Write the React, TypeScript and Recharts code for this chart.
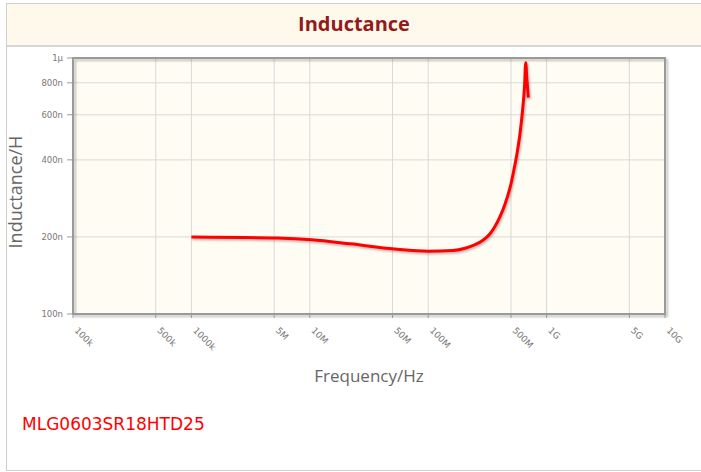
import React from "react";
import {
  LineChart,
  Line,
  XAxis,
  YAxis,
  CartesianGrid,
  ReferenceArea,
  Legend,
  Label,
} from "recharts";

// frequency (Hz) / inductance (H)
const frequencies = [
  1e6, 5.3e6, 1.04e7, 2.2e7, 5.2e7, 1e8, 1.62e8, 2.05e8, 2.49e8, 2.9e8,
  3.33e8, 3.67e8, 4.04e8, 4.45e8, 4.91e8, 5.3e8, 5.62e8, 5.96e8, 6.26e8,
  6.51e8, 6.66e8, 6.82e8, 7.01e8,
];
const inductances = [
  200e-9, 198e-9, 195e-9, 188e-9, 179.5e-9, 176e-9, 177e-9, 180.7e-9,
  186.5e-9, 194.2e-9, 205.9e-9, 220.3e-9, 239.9e-9, 268.5e-9, 311.4e-9,
  366.2e-9, 422.7e-9, 506e-9, 622e-9, 773e-9, 959e-9, 823e-9, 700e-9,
];

const xTicks = [1e5, 5e5, 1e6, 5e6, 1e7, 5e7, 1e8, 5e8, 1e9, 5e9, 1e10];
const xTickLabels = ["100k", "500k", "1000k", "5M", "10M", "50M", "100M", "500M", "1G", "5G", "10G"];
const yTicks = [1e-7, 2e-7, 4e-7, 6e-7, 8e-7, 1e-6];
const yTickLabels = ["100n", "200n", "400n", "600n", "800n", "1µ"];

const seriesName = "MLG0603SR18HTD25";

const data = frequencies.map((f, i) => ({ freq: f, value: inductances[i] }));

const labelFor = (ticks: number[], labels: string[], v: number) => {
  const i = ticks.findIndex((t) => Math.abs(t - v) / t < 1e-6);
  return i >= 0 ? labels[i] : "";
};

const XTick = ({ x, y, payload }: any) => {
  const tx = x + 1;
  const ty = y + 11;
  return (
    <text
      x={tx}
      y={ty}
      transform={`rotate(45, ${tx}, ${ty})`}
      textAnchor="start"
      fontSize={9}
      fontFamily="DejaVu Sans"
      fill="#777"
    >
      {labelFor(xTicks, xTickLabels, payload.value)}
    </text>
  );
};

const YTick = ({ x, y, payload }: any) => (
  <text
    x={x}
    y={y}
    dy={3}
    textAnchor="end"
    fontSize={8.5}
    fontFamily="DejaVu Sans"
    fill="#777"
  >
    {labelFor(yTicks, yTickLabels, payload.value)}
  </text>
);

export default function App() {
  return (
    <div style={{ position: "absolute", left: 0, top: 0, width: 701, height: 472, background: "#fff", overflow: "hidden" }}>
      <div
        style={{
          position: "absolute",
          left: 6,
          top: 3,
          width: 702,
          height: 466,
          border: "1px solid #cfcfcf",
        }}
      >
        <div
          style={{
            height: 41,
            background: "#fef9eb",
            borderBottom: "2px solid #d6d6d6",
            textAlign: "center",
            lineHeight: "40px",
            fontFamily: "'Open Sans', sans-serif",
            fontWeight: 700,
            fontSize: 20,
            color: "#931a1a",
            paddingRight: 8,
          }}
        >
          Inductance
        </div>
      </div>
      <div style={{ position: "absolute", left: 0, top: 0 }}>
        <LineChart
          width={701}
          height={472}
          data={data}
          margin={{ top: 58, right: 36, bottom: 128, left: 0 }}
        >
          <defs>
            <filter id="lineShadow" x="-10%" y="-10%" width="130%" height="130%">
              <feDropShadow dx="1" dy="1.5" stdDeviation="0.8" floodColor="#000" floodOpacity="0.3" />
            </filter>
            <filter id="boxShadow" x="-5%" y="-5%" width="110%" height="115%">
              <feDropShadow dx="2" dy="2" stdDeviation="1" floodColor="#000" floodOpacity="0.25" />
            </filter>
          </defs>
          <CartesianGrid stroke="#d9d9d9" fill="#fffcf3" />
          <XAxis
            dataKey="freq"
            type="number"
            scale="log"
            domain={[1e5, 1e10]}
            ticks={xTicks}
            interval={0}
            allowDataOverflow
            height={30}
            tick={<XTick />}
            tickSize={4}
            tickLine={{ stroke: "#999" }}
            axisLine={false}
          >
            <Label
              value="Frequency/Hz"
              position="bottom"
              offset={26}
              fill="#666"
              fontSize={17}
              fontFamily="'Open Sans', sans-serif"
            />
          </XAxis>
          <YAxis
            type="number"
            scale="log"
            domain={[1e-7, 1e-6]}
            ticks={yTicks}
            interval={0}
            allowDataOverflow
            width={73}
            tick={<YTick />}
            tickSize={6}
            tickMargin={4}
            tickLine={{ stroke: "#999" }}
            axisLine={false}
          >
            <Label
              value="Inductance/H"
              angle={-90}
              position="insideLeft"
              offset={16}
              dy={6}
              fill="#666"
              fontSize={18}
              fontFamily="'Open Sans', sans-serif"
              style={{ textAnchor: "middle" }}
            />
          </YAxis>
          <ReferenceArea
            x1={1e5}
            x2={1e10}
            y1={1e-7}
            y2={1e-6}
            fill="none"
            stroke="#9a9a9a"
            strokeWidth={2}
            filter="url(#boxShadow)"
          />
          <Line
            type="monotone"
            dataKey="value"
            name={seriesName}
            stroke="#ff0000"
            strokeWidth={3}
            dot={false}
            filter="url(#lineShadow)"
            isAnimationActive={false}
          />
          <Legend
            layout="horizontal"
            verticalAlign="middle"
            align="center"
            wrapperStyle={{ left: 22, top: 413, bottom: "auto", width: "auto" }}
            content={({ payload }: any) => (
              <div>
                {payload?.map((p: any, i: number) => (
                  <div
                    key={i}
                    style={{
                      color: "#ff0000",
                      fontFamily: "'DejaVu Sans', sans-serif",
                      fontSize: 17,
                      lineHeight: "22px",
                    }}
                  >
                    {p.value}
                  </div>
                ))}
              </div>
            )}
          />
        </LineChart>
      </div>
    </div>
  );
}
